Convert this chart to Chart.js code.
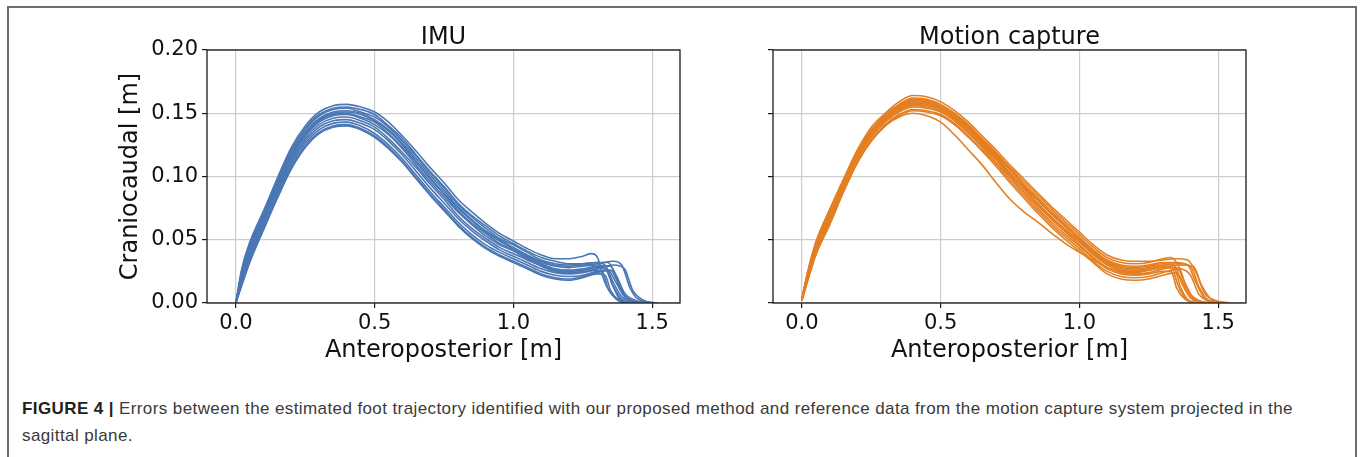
<!DOCTYPE html>
<html lang="en">
  <head>
    <meta charset="UTF-8" />
    <title>Foot trajectory - sagittal plane</title>
    <script src="https://cdn.jsdelivr.net/npm/chart.js"></script>
    <style>
      body {
        margin: 0;
        width: 1360px;
        height: 457px;
        background: #fff;
        position: relative;
        overflow: hidden;
        font-family: "DejaVu Sans", sans-serif;
      }

      .frame {
        position: absolute;
        left: 7px;
        top: 6px;
        width: 1346px;
        height: 470px;
        border: 2px solid #6e6e6e;
        border-bottom: none;
      }

      canvas {
        position: absolute;
        top: 0;
      }

      .caption {
        position: absolute;
        left: 22px;
        top: 395px;
        font-family: "Liberation Sans", Arial, sans-serif;
        font-size: 17px;
        letter-spacing: 0.4px;
        line-height: 27px;
        color: #3a3a3a;
        white-space: nowrap;
      }

      .caption b {
        color: #222;
      }
    </style>
  </head>

  <body>
    <div class="frame"></div>
    <canvas id="imuChart" width="700" height="380" style="left: 0px"></canvas>
    <canvas id="mocapChart" width="530" height="380" style="left: 740px"></canvas>
    <div class="caption">
      <b>FIGURE 4 |</b> Errors between the estimated foot trajectory identified with our proposed method and reference data from the motion capture system projected in the<br />sagittal plane.
    </div>

    <script>
      // shared x positions (anteroposterior, m) for the first part of every stride
      const gridX = [0, 0.02, 0.05, 0.1, 0.15, 0.2, 0.25, 0.3, 0.35, 0.4, 0.45, 0.5, 0.55, 0.6, 0.65, 0.7, 0.75, 0.8, 0.85, 0.9, 0.95, 1.0];

      const xTicks = [0, 0.5, 1.0, 1.5];
      const yTicks = [0, 0.05, 0.1, 0.15, 0.2];

      // IMU strides: craniocaudal height at gridX
      const imuMain = [
        [0, 0.026, 0.048, 0.073, 0.099, 0.123, 0.140, 0.151, 0.156, 0.157, 0.155, 0.151, 0.143, 0.132, 0.120, 0.107, 0.095, 0.082, 0.072, 0.063, 0.055, 0.049],
        [0, 0.024, 0.046, 0.071, 0.097, 0.121, 0.138, 0.149, 0.154, 0.155, 0.153, 0.149, 0.140, 0.130, 0.117, 0.104, 0.092, 0.079, 0.069, 0.061, 0.053, 0.047],
        [0, 0.023, 0.045, 0.070, 0.096, 0.120, 0.137, 0.148, 0.153, 0.154, 0.151, 0.147, 0.139, 0.128, 0.116, 0.103, 0.091, 0.078, 0.068, 0.059, 0.051, 0.046],
        [0, 0.022, 0.044, 0.069, 0.095, 0.118, 0.135, 0.146, 0.151, 0.152, 0.150, 0.145, 0.137, 0.126, 0.114, 0.101, 0.089, 0.076, 0.066, 0.057, 0.050, 0.044],
        [0, 0.021, 0.042, 0.068, 0.093, 0.117, 0.134, 0.145, 0.150, 0.151, 0.149, 0.144, 0.136, 0.125, 0.112, 0.099, 0.087, 0.075, 0.065, 0.056, 0.049, 0.043],
        [0, 0.021, 0.041, 0.067, 0.092, 0.116, 0.133, 0.144, 0.149, 0.150, 0.147, 0.143, 0.134, 0.123, 0.111, 0.098, 0.086, 0.073, 0.063, 0.055, 0.047, 0.042],
        [0, 0.020, 0.040, 0.066, 0.091, 0.115, 0.132, 0.143, 0.148, 0.149, 0.146, 0.141, 0.133, 0.122, 0.109, 0.096, 0.084, 0.072, 0.062, 0.053, 0.046, 0.041],
        [0, 0.018, 0.038, 0.064, 0.089, 0.113, 0.130, 0.141, 0.146, 0.147, 0.144, 0.139, 0.130, 0.119, 0.107, 0.094, 0.082, 0.069, 0.059, 0.051, 0.044, 0.039],
        [0, 0.017, 0.036, 0.062, 0.087, 0.111, 0.128, 0.139, 0.144, 0.145, 0.142, 0.137, 0.128, 0.117, 0.104, 0.091, 0.079, 0.067, 0.057, 0.049, 0.042, 0.037],
        [0, 0.015, 0.034, 0.060, 0.085, 0.109, 0.126, 0.137, 0.142, 0.143, 0.140, 0.134, 0.125, 0.114, 0.101, 0.088, 0.076, 0.064, 0.054, 0.046, 0.040, 0.035],
        [0, 0.014, 0.033, 0.059, 0.084, 0.107, 0.124, 0.135, 0.140, 0.141, 0.138, 0.132, 0.123, 0.112, 0.099, 0.086, 0.074, 0.062, 0.052, 0.044, 0.038, 0.033],
        [0, 0.013, 0.032, 0.058, 0.083, 0.106, 0.123, 0.134, 0.139, 0.140, 0.137, 0.131, 0.122, 0.111, 0.098, 0.085, 0.073, 0.061, 0.051, 0.043, 0.037, 0.032],
      ];

      // IMU strides after x = 1.0: [x, y] pairs (plateau, bump, drop to ground)
      const imuTails = [
        [[1.05, 0.043], [1.1, 0.038], [1.15, 0.035], [1.2, 0.035], [1.25, 0.037], [1.28, 0.039], [1.305, 0.035], [1.32, 0.022], [1.35, 0.008], [1.39, 0.002], [1.43, 0]],
        [[1.05, 0.041], [1.1, 0.036], [1.15, 0.033], [1.2, 0.031], [1.25, 0.031], [1.3, 0.032], [1.34, 0.032], [1.37, 0.022], [1.4, 0.008], [1.44, 0.002], [1.5, 0]],
        [[1.05, 0.040], [1.1, 0.034], [1.15, 0.031], [1.2, 0.030], [1.25, 0.031], [1.3, 0.032], [1.33, 0.030], [1.36, 0.016], [1.39, 0.005], [1.43, 0.001], [1.47, 0]],
        [[1.05, 0.038], [1.1, 0.033], [1.15, 0.030], [1.2, 0.029], [1.25, 0.030], [1.3, 0.031], [1.36, 0.033], [1.39, 0.030], [1.42, 0.012], [1.45, 0.003], [1.52, 0]],
        [[1.05, 0.037], [1.1, 0.032], [1.15, 0.029], [1.2, 0.028], [1.25, 0.029], [1.3, 0.030], [1.33, 0.029], [1.355, 0.015], [1.38, 0.004], [1.42, 0]],
        [[1.05, 0.036], [1.1, 0.031], [1.15, 0.027], [1.2, 0.026], [1.25, 0.027], [1.3, 0.029], [1.35, 0.029], [1.37, 0.020], [1.4, 0.006], [1.44, 0.001], [1.49, 0]],
        [[1.05, 0.035], [1.1, 0.030], [1.15, 0.026], [1.2, 0.025], [1.25, 0.026], [1.3, 0.028], [1.33, 0.027], [1.36, 0.013], [1.39, 0.003], [1.43, 0]],
        [[1.05, 0.034], [1.1, 0.029], [1.15, 0.025], [1.2, 0.024], [1.25, 0.025], [1.3, 0.027], [1.36, 0.030], [1.4, 0.027], [1.43, 0.010], [1.47, 0.002], [1.51, 0]],
        [[1.05, 0.032], [1.1, 0.027], [1.15, 0.024], [1.2, 0.023], [1.25, 0.024], [1.3, 0.026], [1.32, 0.025], [1.34, 0.012], [1.37, 0.003], [1.4, 0]],
        [[1.05, 0.030], [1.1, 0.025], [1.15, 0.022], [1.2, 0.021], [1.25, 0.022], [1.3, 0.025], [1.34, 0.026], [1.37, 0.016], [1.4, 0.005], [1.45, 0.001], [1.48, 0]],
        [[1.05, 0.028], [1.1, 0.023], [1.15, 0.020], [1.2, 0.019], [1.25, 0.021], [1.3, 0.024], [1.35, 0.026], [1.38, 0.014], [1.41, 0.004], [1.46, 0]],
        [[1.05, 0.027], [1.1, 0.022], [1.15, 0.019], [1.2, 0.018], [1.25, 0.020], [1.3, 0.023], [1.33, 0.022], [1.35, 0.010], [1.38, 0.002], [1.41, 0]],
      ];

      // motion capture strides at gridX
      const mocapMain = [
        [0.003, 0.024, 0.048, 0.074, 0.098, 0.121, 0.139, 0.150, 0.159, 0.164, 0.163, 0.159, 0.152, 0.143, 0.132, 0.121, 0.109, 0.098, 0.087, 0.076, 0.066, 0.056],
        [0.003, 0.023, 0.047, 0.072, 0.097, 0.120, 0.137, 0.149, 0.157, 0.162, 0.161, 0.157, 0.150, 0.141, 0.130, 0.119, 0.107, 0.096, 0.085, 0.074, 0.064, 0.054],
        [0.003, 0.022, 0.046, 0.071, 0.096, 0.119, 0.136, 0.148, 0.156, 0.161, 0.160, 0.156, 0.149, 0.140, 0.129, 0.118, 0.106, 0.094, 0.083, 0.072, 0.062, 0.052],
        [0.003, 0.022, 0.045, 0.070, 0.095, 0.118, 0.135, 0.147, 0.155, 0.160, 0.159, 0.155, 0.148, 0.139, 0.128, 0.117, 0.105, 0.093, 0.082, 0.071, 0.061, 0.051],
        [0.003, 0.021, 0.044, 0.069, 0.094, 0.117, 0.135, 0.146, 0.155, 0.159, 0.158, 0.155, 0.148, 0.138, 0.127, 0.116, 0.103, 0.092, 0.081, 0.070, 0.060, 0.050],
        [0.002, 0.021, 0.043, 0.068, 0.093, 0.116, 0.134, 0.145, 0.154, 0.158, 0.157, 0.154, 0.147, 0.137, 0.126, 0.115, 0.102, 0.091, 0.079, 0.068, 0.058, 0.049],
        [0.002, 0.020, 0.043, 0.067, 0.092, 0.116, 0.133, 0.145, 0.153, 0.157, 0.156, 0.153, 0.146, 0.136, 0.125, 0.114, 0.101, 0.090, 0.078, 0.067, 0.057, 0.048],
        [0.002, 0.019, 0.042, 0.066, 0.092, 0.115, 0.132, 0.144, 0.152, 0.156, 0.155, 0.152, 0.145, 0.135, 0.124, 0.113, 0.100, 0.088, 0.077, 0.066, 0.056, 0.046],
        [0.002, 0.019, 0.041, 0.065, 0.091, 0.114, 0.131, 0.143, 0.151, 0.155, 0.154, 0.151, 0.144, 0.134, 0.123, 0.111, 0.099, 0.087, 0.075, 0.064, 0.054, 0.045],
        [0.002, 0.018, 0.039, 0.063, 0.089, 0.112, 0.129, 0.141, 0.149, 0.153, 0.152, 0.149, 0.142, 0.132, 0.121, 0.110, 0.097, 0.085, 0.073, 0.062, 0.052, 0.043],
        [0.002, 0.017, 0.038, 0.062, 0.088, 0.111, 0.128, 0.140, 0.148, 0.152, 0.151, 0.148, 0.141, 0.131, 0.120, 0.108, 0.095, 0.083, 0.071, 0.060, 0.050, 0.041],
        [0.002, 0.017, 0.038, 0.062, 0.088, 0.111, 0.128, 0.140, 0.147, 0.150, 0.148, 0.143, 0.133, 0.121, 0.109, 0.095, 0.082, 0.072, 0.064, 0.055, 0.047, 0.040],
      ];

      const mocapTails = [
        [[1.05, 0.046], [1.1, 0.038], [1.15, 0.034], [1.2, 0.033], [1.25, 0.033], [1.3, 0.034], [1.35, 0.035], [1.39, 0.034], [1.42, 0.024], [1.45, 0.008], [1.49, 0.002], [1.54, 0]],
        [[1.05, 0.044], [1.1, 0.036], [1.15, 0.032], [1.2, 0.031], [1.25, 0.032], [1.3, 0.035], [1.33, 0.036], [1.36, 0.028], [1.39, 0.010], [1.43, 0.002], [1.48, 0]],
        [[1.05, 0.042], [1.1, 0.034], [1.15, 0.030], [1.2, 0.029], [1.25, 0.030], [1.3, 0.032], [1.35, 0.032], [1.39, 0.030], [1.42, 0.016], [1.45, 0.004], [1.5, 0]],
        [[1.05, 0.041], [1.1, 0.033], [1.15, 0.029], [1.2, 0.028], [1.25, 0.029], [1.3, 0.031], [1.34, 0.030], [1.37, 0.015], [1.4, 0.004], [1.44, 0]],
        [[1.05, 0.040], [1.1, 0.032], [1.15, 0.028], [1.2, 0.027], [1.25, 0.028], [1.3, 0.030], [1.36, 0.031], [1.4, 0.029], [1.43, 0.013], [1.46, 0.003], [1.52, 0]],
        [[1.05, 0.039], [1.1, 0.031], [1.15, 0.027], [1.2, 0.026], [1.25, 0.027], [1.3, 0.029], [1.34, 0.028], [1.365, 0.012], [1.39, 0.003], [1.42, 0]],
        [[1.05, 0.038], [1.1, 0.030], [1.15, 0.026], [1.2, 0.025], [1.25, 0.026], [1.3, 0.028], [1.36, 0.030], [1.41, 0.029], [1.44, 0.014], [1.48, 0.002], [1.53, 0]],
        [[1.05, 0.036], [1.1, 0.028], [1.15, 0.024], [1.2, 0.023], [1.25, 0.024], [1.3, 0.027], [1.35, 0.028], [1.38, 0.016], [1.41, 0.004], [1.46, 0]],
        [[1.05, 0.035], [1.1, 0.027], [1.15, 0.023], [1.2, 0.022], [1.25, 0.023], [1.3, 0.025], [1.33, 0.025], [1.35, 0.012], [1.38, 0.003], [1.42, 0]],
        [[1.05, 0.033], [1.1, 0.025], [1.15, 0.021], [1.2, 0.020], [1.25, 0.021], [1.3, 0.024], [1.36, 0.027], [1.4, 0.022], [1.43, 0.007], [1.47, 0.001], [1.51, 0]],
        [[1.05, 0.032], [1.1, 0.023], [1.15, 0.019], [1.2, 0.018], [1.25, 0.019], [1.3, 0.022], [1.35, 0.024], [1.38, 0.013], [1.41, 0.003], [1.45, 0]],
        [[1.05, 0.034], [1.1, 0.028], [1.15, 0.025], [1.2, 0.024], [1.25, 0.026], [1.3, 0.029], [1.33, 0.029], [1.355, 0.014], [1.38, 0.004], [1.41, 0]],
      ];

      const imuColor = "#4a77b4";
      const mocapColor = "#e37f22";

      function buildDatasets(main, tails, color) {
        return main.map((ys, i) => ({
          data: gridX
            .map((x, j) => ({ x: x, y: ys[j] }))
            .concat(tails[i].map((p) => ({ x: p[0], y: p[1] }))),
          borderColor: color,
          borderWidth: 1.6,
          pointRadius: 0,
          showLine: true,
          fill: false,
          cubicInterpolationMode: "monotone",
        }));
      }

      // matplotlib-like box around the plot area
      const spines = {
        id: "spines",
        afterDatasetsDraw(chart) {
          const a = chart.chartArea;
          const ctx = chart.ctx;
          ctx.save();
          ctx.strokeStyle = "#1a1a1a";
          ctx.lineWidth = 1.3;
          ctx.strokeRect(a.left, a.top, a.right - a.left, a.bottom - a.top);
          ctx.restore();
        },
      };

      function makeOptions(title, showYLabels, yAxisWidth, rightPad) {
        return {
          responsive: false,
          animation: false,
          layout: { padding: { right: rightPad, left: 0, top: 0, bottom: 0 } },
          plugins: {
            legend: { display: false },
            tooltip: { enabled: false },
            title: {
              display: true,
              text: title,
              fullSize: false,
              color: "#111",
              font: { family: "DejaVu Sans", size: 24, weight: "normal", lineHeight: 0.9 },
              padding: { top: 27, bottom: 1.4 },
            },
          },
          scales: {
            x: {
              type: "linear",
              min: -0.104,
              max: 1.6,
              afterBuildTicks: (axis) => {
                axis.ticks = xTicks.map((v) => ({ value: v }));
              },
              afterFit: (axis) => {
                axis.height = 77;
              },
              ticks: {
                color: "#111",
                font: { family: "DejaVu Sans", size: 21 },
                padding: 3,
                maxRotation: 0,
                callback: (v) => Number(v).toFixed(1),
              },
              grid: {
                color: "#cdcdcd",
                lineWidth: 1.2,
                tickColor: "#1a1a1a",
                tickLength: 5,
                tickWidth: 1.2,
              },
              border: { display: false },
              title: {
                display: true,
                text: "Anteroposterior [m]",
                color: "#111",
                font: { family: "DejaVu Sans", size: 24, lineHeight: 1.2 },
                padding: { top: 0, bottom: 15 },
              },
            },
            y: {
              type: "linear",
              min: 0,
              max: 0.2,
              afterBuildTicks: (axis) => {
                axis.ticks = yTicks.map((v) => ({ value: v }));
              },
              afterFit: (axis) => {
                axis.width = yAxisWidth;
              },
              ticks: {
                color: "#111",
                font: { family: "DejaVu Sans", size: 21 },
                padding: 4,
                callback: (v) => (showYLabels ? Number(v).toFixed(2) : ""),
              },
              grid: {
                color: "#cdcdcd",
                lineWidth: 1.2,
                tickColor: "#1a1a1a",
                tickLength: 5,
                tickWidth: 1.2,
              },
              border: { display: false },
              title: {
                display: showYLabels,
                text: "Craniocaudal [m]",
                color: "#111",
                font: { family: "DejaVu Sans", size: 24, lineHeight: 1.2 },
                padding: { top: 116, bottom: 0 },
              },
            },
          },
        };
      }

      new Chart(document.getElementById("imuChart"), {
        type: "scatter",
        data: { datasets: buildDatasets(imuMain, imuTails, imuColor) },
        options: makeOptions("IMU", true, 207, 20),
        plugins: [spines],
      });

      new Chart(document.getElementById("mocapChart"), {
        type: "scatter",
        data: { datasets: buildDatasets(mocapMain, mocapTails, mocapColor) },
        options: makeOptions("Motion capture", false, 33, 24),
        plugins: [spines],
      });
    </script>
  </body>
</html>
